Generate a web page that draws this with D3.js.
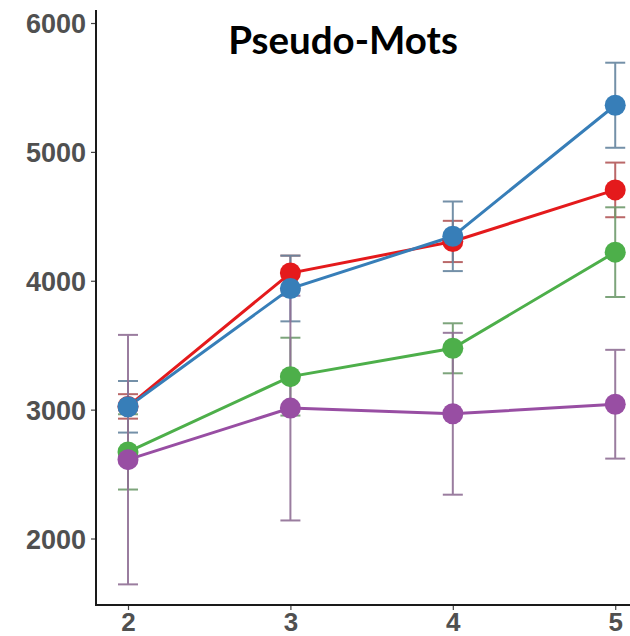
<!DOCTYPE html>
<html>
<head>
<meta charset="utf-8">
<script src="https://cdn.jsdelivr.net/npm/d3@7"></script>
<style>
  html, body { margin: 0; padding: 0; background: #fff; }
  svg { display: block; }
</style>
</head>
<body>
<svg id="chart" width="630" height="636"></svg>
<script>
// Conditions (x axis) and mean response times with their error half-widths
const categories = [2, 3, 4, 5];
const seriesNames = ["rouge", "bleu", "vert", "violet"];
const seriesColors = ["#e41a1c", "#377eb8", "#4daf4a", "#984ea3"];
const redValues = [3025, 4060, 4305, 4705];
const redErrors = [95, 135, 160, 212];
const blueValues = [3022, 3940, 4345, 5362];
const blueErrors = [200, 255, 270, 330];
const greenValues = [2672, 3256, 3476, 4222];
const greenErrors = [292, 302, 194, 348];
const purpleValues = [2612, 3012, 2968, 3042];
const purpleErrors = [968, 872, 628, 422];
const yTicks = [2000, 3000, 4000, 5000, 6000];
const title = "Pseudo-Mots";

const series = [
  { name: seriesNames[0], color: seriesColors[0], values: redValues, errors: redErrors },
  { name: seriesNames[1], color: seriesColors[1], values: blueValues, errors: blueErrors },
  { name: seriesNames[2], color: seriesColors[2], values: greenValues, errors: greenErrors },
  { name: seriesNames[3], color: seriesColors[3], values: purpleValues, errors: purpleErrors }
].map(s => ({
  ...s,
  points: categories.map((c, i) => ({ x: c, y: s.values[i], e: s.errors[i] }))
}));

const svg = d3.select("#chart");

const x = d3.scaleLinear().domain([1.803, 5.091]).range([96, 630]);
const y = d3.scaleLinear().domain([1484, 6101]).range([605, 10]);

// Error bars: greyed-out tint of each series colour
const errLayer = svg.append("g");
series.forEach(s => {
  const c = d3.interpolateRgb(s.color, "#8a8a8a")(0.55);
  const g = errLayer.append("g").attr("stroke", c).attr("stroke-width", 2).attr("opacity", 0.9);
  s.points.forEach(p => {
    const cx = x(p.x), top = y(p.y + p.e), bot = y(p.y - p.e);
    g.append("line").attr("x1", cx).attr("x2", cx).attr("y1", top).attr("y2", bot);
    g.append("line").attr("x1", cx - 10).attr("x2", cx + 10).attr("y1", top).attr("y2", top);
    g.append("line").attr("x1", cx - 10).attr("x2", cx + 10).attr("y1", bot).attr("y2", bot);
  });
});

// Connecting lines
const line = d3.line().x(d => x(d.x)).y(d => y(d.y));
series.forEach(s => {
  svg.append("path")
    .datum(s.points)
    .attr("fill", "none")
    .attr("stroke", s.color)
    .attr("stroke-width", 3)
    .attr("d", line);
});

// Mean points
series.forEach(s => {
  svg.append("g").selectAll("circle")
    .data(s.points)
    .join("circle")
    .attr("cx", d => x(d.x))
    .attr("cy", d => y(d.y))
    .attr("r", 10.5)
    .attr("fill", s.color);
});

// Axes
const yAxis = d3.axisLeft(y).tickValues(yTicks).tickSize(5).tickPadding(5).tickFormat(d3.format("d"));
const gy = svg.append("g").attr("transform", "translate(96,0)").call(yAxis);
gy.select(".domain").remove();
gy.selectAll(".tick line").attr("stroke", "#444").attr("stroke-width", 1.2);
gy.selectAll(".tick text")
  .attr("fill", "#505050")
  .style("font-family", "'Liberation Sans', Arial, sans-serif")
  .style("font-weight", "bold")
  .style("font-size", "27px")
  .attr("dy", "0.36em");

const xAxis = d3.axisBottom(x).tickValues(categories).tickSize(5).tickPadding(3).tickFormat(d3.format("d"));
const gx = svg.append("g").attr("transform", "translate(0,605)").call(xAxis);
gx.select(".domain").remove();
gx.selectAll(".tick line").attr("stroke", "#444").attr("stroke-width", 1.2);
gx.selectAll(".tick text")
  .attr("fill", "#505050")
  .style("font-family", "'Liberation Sans', Arial, sans-serif")
  .style("font-weight", "bold")
  .style("font-size", "26px");

// Axis lines (L-shaped frame)
svg.append("path")
  .attr("d", `M96,${y.range()[1]}V605H630`)
  .attr("fill", "none")
  .attr("stroke", "#1a1a1a")
  .attr("stroke-width", 2);

// Title
svg.append("text")
  .attr("x", 343)
  .attr("y", 54)
  .attr("text-anchor", "middle")
  .style("font-family", "Lato, 'Open Sans', sans-serif")
  .style("font-weight", "bold")
  .style("font-size", "38.5px")
  .attr("fill", "#000")
  .text(title);
</script>
</body>
</html>
